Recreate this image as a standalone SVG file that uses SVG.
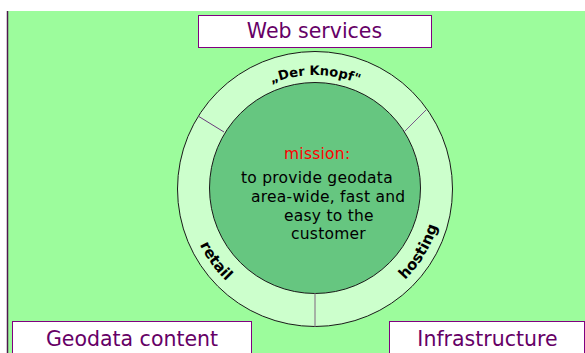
<svg xmlns="http://www.w3.org/2000/svg" width="585" height="353" viewBox="0 0 585 353">
<style>
.box{fill:#ffffff;stroke:#800080;stroke-width:1}
.boxt{font-family:"DejaVu Sans",Verdana,sans-serif;font-size:20.5px;fill:#660066;text-anchor:middle}
.mt{font-family:"DejaVu Sans",Verdana,sans-serif;font-size:15.5px;letter-spacing:0.25px;fill:#000000}
.ring{font-family:"DejaVu Sans",Verdana,sans-serif;font-weight:bold;fill:#000000;text-anchor:middle}
</style>
<defs>
<path id="topArc" d="M 201 189 A 114 114 0 0 1 429 189"/>
<path id="botArc" d="M 194.7 145.2 A 128 128 0 1 0 435.3 145.2"/>
</defs>
<rect x="0" y="0" width="585" height="353" fill="#ffffff"/>
<rect x="7.5" y="11" width="578" height="342" fill="#9cfc9c"/>
<line x1="7.5" y1="11" x2="7.5" y2="353" stroke="#4d1a4d" stroke-width="1.5"/>
<g id="knopf">
<circle cx="315" cy="189" r="137.5" fill="#ccffcc" stroke="#1a1a1a" stroke-width="1"/>
<circle cx="315" cy="188" r="105.5" fill="#66c680" stroke="#1a1a1a" stroke-width="1"/>
</g>
<g id="connectors">
<line x1="198" y1="116" x2="224" y2="132" stroke="#6a3a7a" stroke-width="1"/>
<line x1="404" y1="132" x2="426" y2="110" stroke="#7a5a8a" stroke-width="1"/>
<line x1="315" y1="293.5" x2="315" y2="326.5" stroke="#999999" stroke-width="1.5"/>
</g>
<g id="ring-labels">
<text class="ring" font-size="13"><textPath href="#topArc" startOffset="50%">„Der Knopf"</textPath></text>
<text class="ring" font-size="15"><textPath href="#botArc" startOffset="125">retail</textPath></text>
<text class="ring" font-size="15"><textPath href="#botArc" startOffset="377">hosting</textPath></text>
</g>
<g id="mission">
<text class="mt" x="284" y="159" style="fill:#ff0000">mission:</text>
<text class="mt" x="241" y="183">to provide geodata</text>
<text class="mt" x="251" y="202">area-wide, fast and</text>
<text class="mt" x="284" y="221">easy to the</text>
<text class="mt" x="291" y="239">customer</text>
</g>
<g id="web-services">
<rect class="box" x="198.5" y="15.5" width="233" height="32"/>
<text class="boxt" x="314.5" y="38">Web services</text>
</g>
<g id="geodata-content">
<rect class="box" x="12.5" y="321.5" width="239" height="40"/>
<text class="boxt" x="132" y="346">Geodata content</text>
</g>
<g id="infrastructure">
<rect class="box" x="389.5" y="321.5" width="195" height="40"/>
<text class="boxt" x="487.5" y="346">Infrastructure</text>
</g>
</svg>
